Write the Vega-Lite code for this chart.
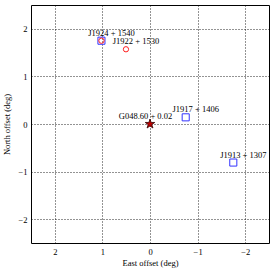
{
  "$schema": "https://vega.github.io/schema/vega-lite/v6.json",
  "width": 238,
  "height": 238,
  "autosize": "none",
  "padding": {"left": 31, "top": 5, "right": 6, "bottom": 27},
  "config": {
    "font": "Liberation Serif",
    "view": {"stroke": "black", "strokeWidth": 1},
    "axis": {
      "domain": false,
      "grid": true,
      "gridColor": "black",
      "gridDash": [1, 2],
      "gridOpacity": 0.85,
      "gridWidth": 1,
      "ticks": false,
      "labelFontSize": 8.5,
      "labelColor": "black",
      "titleFontSize": 8.5,
      "titleFontWeight": "normal",
      "titleColor": "black",
      "labelPadding": 4
    }
  },
  "data": {
    "values": [
      {"source": "J1924 + 1540", "east": 1.02, "north": 1.75, "kind": "square"},
      {"source": "J1924 + 1540", "east": 1.02, "north": 1.75, "kind": "circle"},
      {"source": "J1922 + 1530", "east": 0.505, "north": 1.57, "kind": "circle"},
      {"source": "J1917 + 1406", "east": -0.75, "north": 0.14, "kind": "square"},
      {"source": "J1913 + 1307", "east": -1.75, "north": -0.81, "kind": "square"},
      {"source": "G048.60 + 0.02", "east": 0, "north": 0, "kind": "star"}
    ]
  },
  "encoding": {
    "x": {
      "field": "east",
      "type": "quantitative",
      "scale": {"domain": [2.5, -2.5], "nice": false, "zero": false},
      "axis": {"values": [-2, -1, 0, 1, 2], "title": "East offset (deg)", "titlePadding": 3}
    },
    "y": {
      "field": "north",
      "type": "quantitative",
      "scale": {"domain": [-2.5, 2.5], "nice": false, "zero": false},
      "axis": {"values": [-2, -1, 0, 1, 2], "title": "North offset (deg)", "titlePadding": 6}
    }
  },
  "layer": [
    {
      "transform": [{"filter": "datum.kind == 'square'"}],
      "mark": {"type": "point", "shape": "square", "size": 50, "filled": false, "stroke": "#3333ff", "strokeWidth": 1, "opacity": 1}
    },
    {
      "transform": [{"filter": "datum.kind == 'circle'"}],
      "mark": {"type": "point", "shape": "circle", "size": 28, "filled": false, "stroke": "#ff2020", "strokeWidth": 1, "opacity": 1}
    },
    {
      "transform": [{"filter": "datum.kind == 'star'"}],
      "mark": {"type": "point", "shape": "M0,-1L0.225,-0.309L0.951,-0.309L0.363,0.118L0.588,0.809L0,0.382L-0.588,0.809L-0.363,0.118L-0.951,-0.309L-0.225,-0.309Z", "size": 100, "filled": true, "fill": "#c00000", "stroke": "#300000", "strokeWidth": 0.8, "opacity": 1}
    },
    {
      "transform": [{"filter": "datum.kind == 'square' || datum.source == 'J1922 + 1530'"}],
      "mark": {"type": "text", "align": "center", "baseline": "middle", "dx": 10, "dy": -8, "fontSize": 8.5, "color": "black"},
      "encoding": {"text": {"field": "source"}}
    },
    {
      "transform": [{"filter": "datum.kind == 'star'"}],
      "mark": {"type": "text", "align": "center", "baseline": "middle", "dx": -4.5, "dy": -8, "fontSize": 8.5, "color": "black"},
      "encoding": {"text": {"field": "source"}}
    }
  ]
}
